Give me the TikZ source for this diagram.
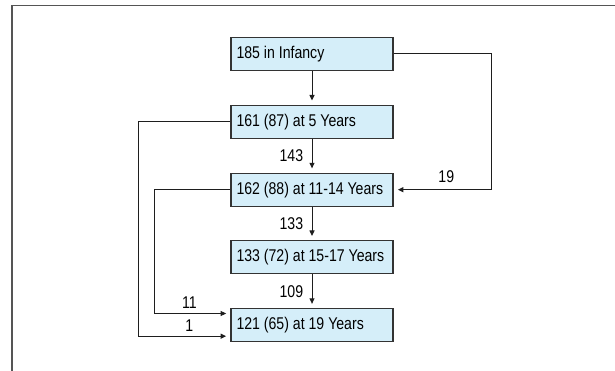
\documentclass[tikz,border=0pt]{standalone}
\usepackage{fontspec}
\setmainfont{Liberation Sans}[FakeStretch=0.83]
\usetikzlibrary{arrows.meta}
\definecolor{boxfill}{HTML}{D5EEF9}
\definecolor{boxline}{HTML}{333333}
\definecolor{conn}{HTML}{1E1E1E}
\definecolor{framec}{HTML}{555555}
\newcommand{\boxtext}[1]{\makebox[151pt][l]{#1}}
\tikzset{
  stagebox/.style={draw=boxline, line width=1.1pt, fill=boxfill, minimum width=162pt, minimum height=33pt,
    inner xsep=5.5pt, inner ysep=0pt, font=\fontsize{17}{19}\selectfont},
  flow/.style={draw=conn, line width=1pt, -{Triangle[length=5.5pt,width=5pt]}, shorten >=4.3pt},
  plain/.style={draw=conn, line width=1pt},
  lbl/.style={font=\fontsize{17}{19}\selectfont, inner sep=0pt},
  frameln/.style={draw=framec, line width=1.8pt}
}
\begin{document}
\begin{tikzpicture}[x=1pt,y=-1pt]
\useasboundingbox (0,0) rectangle (615,371);
\draw[frameln] (11.7,375) -- (11.7,5.5) -- (620,5.5);
\node[stagebox] (b1) at (312,54) {\boxtext{185 in Infancy}};
\node[stagebox] (b2) at (312,121.8) {\boxtext{161 (87) at 5 Years}};
\node[stagebox] (b3) at (312,189.7) {\boxtext{162 (88) at 11-14 Years}};
\node[stagebox] (b4) at (312,257.3) {\boxtext{133 (72) at 15-17 Years}};
\node[stagebox] (b5) at (312,325.2) {\boxtext{121 (65) at 19 Years}};
\coordinate (r1) at (491,54);
\coordinate (r2) at (491,189.7);
\coordinate (l1) at (138.4,121.8);
\coordinate (l2) at (138.4,336.2);
\coordinate (m1) at (154.9,189.7);
\coordinate (m2) at (154.9,313.5);
\draw[flow] (b1) -- (b2);
\draw[flow] (b2) -- (b3);
\draw[flow] (b3) -- (b4);
\draw[flow] (b4) -- (b5);
\draw[plain] (b1.east) -- (r1) -- (r2);
\draw[flow] (r2) -- (b3.east);
\draw[plain] (b2.west) -- (l1) -- (l2);
\draw[flow] (l2) -- (b5.west |- l2);
\draw[plain] (b3.west) -- (m1) -- (m2);
\draw[flow] (m2) -- (b5.west |- m2);
\node[lbl] (t143) at (291.4,155.7) {143};
\node[lbl] (t133) at (291.4,223.5) {133};
\node[lbl] (t109) at (291.4,291.3) {109};
\node[lbl] (t19) at (446.3,176.7) {19};
\node[lbl] (t11) at (189.4,302.3) {11};
\node[lbl] (t1) at (189.4,325.7) {1};
\end{tikzpicture}
\end{document}
